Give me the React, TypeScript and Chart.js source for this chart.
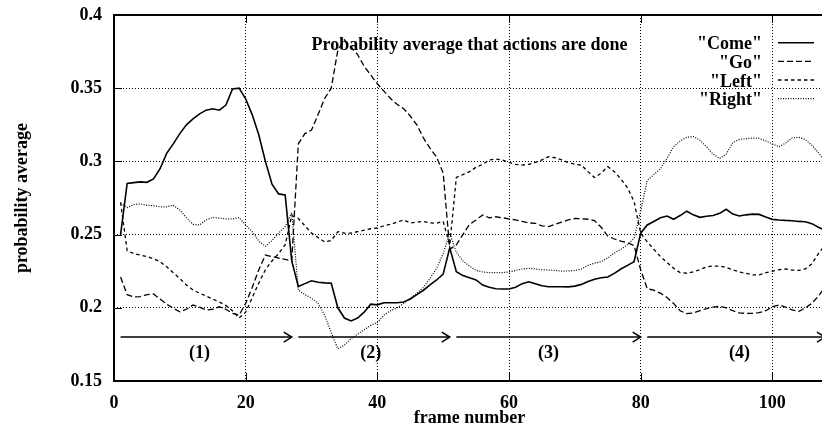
import React, { useEffect, useRef } from "react";
import { Chart, registerables } from "chart.js";

Chart.register(...registerables);

const frames = [
  1, 2, 3, 4, 5, 6, 7, 8, 9, 10, 11, 12, 13, 14, 15, 16, 17, 18, 19, 20,
  21, 22, 23, 24, 25, 26, 27, 28, 29, 30, 31, 32, 33, 34, 35, 36, 37, 38, 39, 40,
  41, 42, 43, 44, 45, 46, 47, 48, 49, 50, 51, 52, 53, 54, 55, 56, 57, 58, 59, 60,
  61, 62, 63, 64, 65, 66, 67, 68, 69, 70, 71, 72, 73, 74, 75, 76, 77, 78, 79, 80,
  81, 82, 83, 84, 85, 86, 87, 88, 89, 90, 91, 92, 93, 94, 95, 96, 97, 98, 99, 100,
  101, 102, 103, 104, 105, 106, 107, 108,
];

const come = [
  0.25, 0.285, 0.2855, 0.286, 0.2857, 0.288, 0.295, 0.3055, 0.312, 0.319,
  0.325, 0.329, 0.3325, 0.335, 0.336, 0.335, 0.3385, 0.3495, 0.35, 0.3427,
  0.3318, 0.318, 0.3, 0.2844, 0.2778, 0.2771, 0.232, 0.2145, 0.2165, 0.2185,
  0.2175, 0.217, 0.2168, 0.2, 0.193, 0.191, 0.193, 0.197, 0.2025, 0.202,
  0.2035, 0.2035, 0.2035, 0.204, 0.206, 0.209, 0.212, 0.2156, 0.219, 0.223,
  0.241, 0.2247, 0.222, 0.2205, 0.219, 0.2155, 0.214, 0.213, 0.2128, 0.2128,
  0.214, 0.2165, 0.2178, 0.2165, 0.215, 0.2144, 0.2144, 0.2144, 0.2143, 0.2148,
  0.216, 0.218, 0.2195, 0.2205, 0.221, 0.2235, 0.2265, 0.229, 0.2315, 0.251,
  0.2566, 0.259, 0.2615, 0.2627, 0.2605, 0.263, 0.266, 0.2635, 0.2618, 0.2625,
  0.263, 0.2645, 0.2673, 0.264, 0.2627, 0.2635, 0.264, 0.2638, 0.262, 0.2604,
  0.26, 0.2597, 0.2595, 0.259, 0.2588, 0.2575, 0.255, 0.253,
];

const go = [
  0.221, 0.209, 0.2075, 0.2076, 0.209, 0.2094, 0.206, 0.2025, 0.1997, 0.1973,
  0.199, 0.2019, 0.2005, 0.1985, 0.199, 0.2007, 0.199, 0.1962, 0.195, 0.203,
  0.214, 0.226, 0.236, 0.235, 0.234, 0.233, 0.232, 0.312, 0.319, 0.3214,
  0.332, 0.343, 0.35, 0.376, 0.383, 0.378, 0.373, 0.365, 0.359, 0.353,
  0.348, 0.343, 0.339, 0.336, 0.331, 0.325, 0.316, 0.309, 0.303, 0.292,
  0.24, 0.243, 0.25, 0.257, 0.26, 0.2634, 0.2615, 0.2622, 0.2615, 0.2607,
  0.26, 0.259, 0.258, 0.2577, 0.256, 0.2554, 0.257, 0.2585, 0.26, 0.261,
  0.2608, 0.2605, 0.2595, 0.255, 0.249, 0.247, 0.2455, 0.2445, 0.2425, 0.226,
  0.213, 0.212, 0.21, 0.207, 0.203, 0.198, 0.196, 0.1965, 0.198, 0.1995,
  0.2005, 0.201, 0.2, 0.198, 0.1965, 0.1962, 0.1962, 0.1967, 0.198, 0.2007,
  0.202, 0.2005, 0.1985, 0.1975, 0.2, 0.203, 0.208, 0.214,
];

const left = [
  0.272, 0.239, 0.237, 0.236, 0.235, 0.2335, 0.2315, 0.228, 0.224, 0.22,
  0.2155, 0.2122, 0.21, 0.208, 0.206, 0.204, 0.2015, 0.198, 0.193, 0.197,
  0.207, 0.217, 0.226, 0.232, 0.237, 0.243, 0.263, 0.261, 0.256, 0.251,
  0.248, 0.245, 0.246, 0.252, 0.251, 0.251, 0.252, 0.253, 0.254, 0.2545,
  0.256, 0.257, 0.2585, 0.26, 0.258, 0.2585, 0.259, 0.258, 0.2578, 0.259,
  0.243, 0.289, 0.291, 0.293, 0.296, 0.298, 0.301, 0.3016, 0.301, 0.2993,
  0.298, 0.2975, 0.298, 0.2993, 0.301, 0.3032, 0.3025, 0.301, 0.2993, 0.298,
  0.2975, 0.293, 0.289, 0.292, 0.2964, 0.293, 0.288, 0.282, 0.2725, 0.251,
  0.245, 0.24, 0.235, 0.231, 0.227, 0.224, 0.2236, 0.2245, 0.226, 0.228,
  0.2285, 0.2285, 0.2275, 0.226, 0.2245, 0.2235, 0.2225, 0.2225, 0.224, 0.225,
  0.226, 0.2265, 0.2258, 0.2255, 0.2265, 0.23, 0.237, 0.243,
];

const right = [
  0.2714, 0.2685, 0.2705, 0.271, 0.27, 0.2698, 0.269, 0.269, 0.27, 0.2668,
  0.2616, 0.257, 0.2566, 0.26, 0.2618, 0.2612, 0.2607, 0.2607, 0.2616, 0.2566,
  0.252, 0.2455, 0.242, 0.246, 0.251, 0.2554, 0.265, 0.212, 0.209, 0.2065,
  0.203, 0.195, 0.183, 0.172, 0.1745, 0.179, 0.182, 0.185, 0.188, 0.19,
  0.195, 0.198, 0.2, 0.203, 0.2065, 0.21, 0.214, 0.22, 0.227, 0.237,
  0.251, 0.238, 0.232, 0.2285, 0.2255, 0.2245, 0.224, 0.224, 0.224, 0.2245,
  0.2255, 0.2265, 0.227, 0.2265, 0.226, 0.2258, 0.2255, 0.225, 0.2252, 0.2255,
  0.2265, 0.229, 0.2305, 0.2315, 0.234, 0.2375, 0.24, 0.243, 0.2475, 0.266,
  0.287, 0.291, 0.295, 0.302, 0.31, 0.314, 0.3165, 0.317, 0.3145, 0.31,
  0.305, 0.302, 0.305, 0.313, 0.315, 0.3155, 0.316, 0.3157, 0.314, 0.312,
  0.31, 0.3125, 0.316, 0.3165, 0.315, 0.311, 0.306, 0.3,
];

const seriesNames = ['"Come"', '"Go"', '"Left"', '"Right"'];

const xTickValues = [0, 20, 40, 60, 80, 100];
const xTickLabels = ["0", "20", "40", "60", "80", "100"];
const yTickValues = [0.15, 0.2, 0.25, 0.3, 0.35, 0.4];
const yTickLabels = ["0.15", "0.2", "0.25", "0.3", "0.35", "0.4"];

const phaseStarts = [1, 28, 52, 81];
const phaseEnds = [27, 51, 80, 108];
const phaseLabelAt = [13, 39, 66, 95];
const phaseLabels = ["(1)", "(2)", "(3)", "(4)"];
const phaseLevel = 0.18;
const phaseLabelLevel = 0.169;

const titleText = "Probability average that actions are done";

const FONT = "'Liberation Serif', 'Times New Roman', serif";
const lineDash: number[][] = [[], [6, 3], [3.5, 3], [1, 1.5]];
const lineWidths = [1.6, 1.3, 1.3, 1.2];

const overlay = {
  id: "overlay",
  afterDraw(chart: any) {
    const { ctx, chartArea: a, scales } = chart;
    const xs = scales.x;
    const ys = scales.y;
    ctx.save();
    ctx.strokeStyle = "#000";
    ctx.fillStyle = "#000";
    ctx.setLineDash([]);
    ctx.lineWidth = 1;
    const line = (x1: number, y1: number, x2: number, y2: number) => {
      ctx.beginPath();
      ctx.moveTo(x1, y1);
      ctx.lineTo(x2, y2);
      ctx.stroke();
    };
    xTickValues.forEach((v) => {
      if (v === xs.min) return;
      const px = Math.round(xs.getPixelForValue(v)) + 0.5;
      line(px, a.bottom, px, a.bottom - 8);
      line(px, a.top, px, a.top + 8);
    });
    yTickValues.forEach((v) => {
      if (v === ys.min || v === ys.max) return;
      const py = Math.round(ys.getPixelForValue(v)) + 0.5;
      line(a.left, py, a.left + 8, py);
    });
    ctx.lineWidth = 2;
    ctx.strokeRect(a.left, a.top, a.right - a.left, a.bottom - a.top);

    // phase arrows
    ctx.lineWidth = 1.5;
    const ay = ys.getPixelForValue(phaseLevel);
    phaseStarts.forEach((s, i) => {
      const x1 = xs.getPixelForValue(s);
      const x2 = xs.getPixelForValue(phaseEnds[i]);
      line(x1, ay, x2, ay);
      ctx.beginPath();
      ctx.moveTo(x2 - 8, ay - 5);
      ctx.lineTo(x2, ay);
      ctx.lineTo(x2 - 8, ay + 5);
      ctx.stroke();
    });
    ctx.font = `bold 18px ${FONT}`;
    ctx.textAlign = "center";
    ctx.textBaseline = "middle";
    const ly = ys.getPixelForValue(phaseLabelLevel);
    phaseLabels.forEach((t, i) => {
      ctx.fillText(t, xs.getPixelForValue(phaseLabelAt[i]), ly);
    });

    // title inside plot
    ctx.textBaseline = "alphabetic";
    ctx.fillText(titleText, 469.5, a.top + 35);

    // legend
    ctx.textAlign = "right";
    seriesNames.forEach((n, i) => {
      const by = a.top + 34.3 + i * 18.6;
      ctx.fillText(n, 762, by);
      ctx.setLineDash(lineDash[i]);
      ctx.lineWidth = lineWidths[i];
      line(778, by - 6.5, 814, by - 6.5);
    });
    ctx.restore();
  },
};

export default function App() {
  const ref = useRef<HTMLCanvasElement | null>(null);
  useEffect(() => {
    document.body.style.margin = "0";
    const canvas = ref.current;
    if (!canvas) return;
    const seriesValues = [come, go, left, right];
    const chart = new Chart(canvas, {
      type: "line",
      data: {
        datasets: seriesValues.map((vals, i) => ({
          label: seriesNames[i],
          data: frames.map((f, j) => ({ x: f, y: vals[j] })),
          borderColor: "#000",
          borderWidth: lineWidths[i],
          borderDash: lineDash[i],
          pointRadius: 0,
          tension: 0,
          fill: false,
        })),
      },
      options: {
        responsive: false,
        animation: false,
        devicePixelRatio: 1,
        layout: { padding: { top: 15, right: 5, left: 0, bottom: 0 } },
        plugins: { legend: { display: false }, tooltip: { enabled: false } },
        scales: {
          x: {
            type: "linear",
            min: 0,
            max: 108,
            afterBuildTicks: (s: any) => {
              s.ticks = xTickValues.map((v) => ({ value: v }));
            },
            afterFit: (s: any) => {
              s.height = 50;
            },
            ticks: {
              color: "#000",
              font: { family: FONT, size: 18, weight: "bold" },
              padding: 0,
              maxRotation: 0,
              autoSkip: false,
              callback: (v: any) => xTickLabels[xTickValues.indexOf(v)],
            },
            grid: {
              drawTicks: true,
              tickLength: 12,
              tickColor: "rgba(0,0,0,0)",
              lineWidth: 1,
              color: (c: any) =>
                c.tick && c.tick.value === 0 ? "rgba(0,0,0,0)" : "#000",
            },
            border: { display: false, dash: [1, 2] },
            title: {
              display: true,
              text: "frame number",
              color: "#000",
              font: { family: FONT, size: 18, weight: "bold" },
              padding: { top: 0, bottom: 1.5 },
            },
          },
          y: {
            type: "linear",
            min: 0.15,
            max: 0.4,
            afterBuildTicks: (s: any) => {
              s.ticks = yTickValues.map((v) => ({ value: v }));
            },
            afterFit: (s: any) => {
              s.width = 114;
            },
            ticks: {
              color: "#000",
              font: { family: FONT, size: 18, weight: "bold" },
              padding: 0,
              autoSkip: false,
              callback: (v: any) => yTickLabels[yTickValues.indexOf(v)],
            },
            grid: {
              drawTicks: true,
              tickLength: 12,
              tickColor: "rgba(0,0,0,0)",
              lineWidth: 1,
              color: (c: any) =>
                c.tick && (c.tick.value === 0.15 || c.tick.value === 0.4)
                  ? "rgba(0,0,0,0)"
                  : "#000",
            },
            border: { display: false, dash: [1, 2] },
            title: {
              display: true,
              text: "probability average",
              color: "#000",
              font: { family: FONT, size: 18, weight: "bold" },
              padding: { top: 12, bottom: 0 },
            },
          },
        },
      },
      plugins: [overlay],
    } as any);
    return () => chart.destroy();
  }, []);
  return (
    <div
      style={{
        position: "fixed",
        left: 0,
        top: 0,
        width: 822,
        height: 431,
        overflow: "hidden",
        background: "#fff",
      }}
    >
      <canvas ref={ref} width={830} height={431} style={{ display: "block" }} />
    </div>
  );
}
